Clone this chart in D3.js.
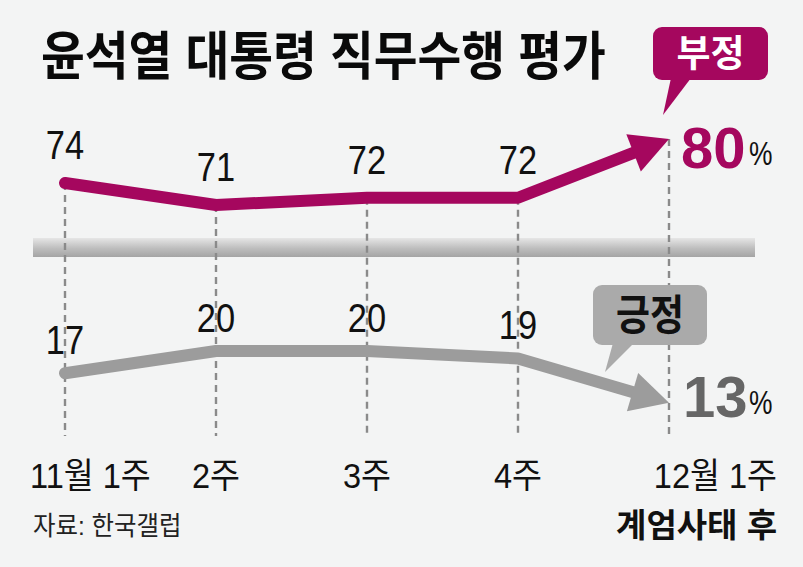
<!DOCTYPE html>
<html>
<head>
<meta charset="utf-8">
<script src="https://cdn.jsdelivr.net/npm/d3@7"></script>
<style>
  html, body { margin: 0; padding: 0; background: #f3f4f4; }
  svg { display: block; font-family: "Liberation Sans", "Noto Sans CJK KR", sans-serif; }
</style>
</head>
<body>
<div class="chart"></div>
<script>
const width = 803, height = 567;

// data
const weeks = ["11월 1주", "2주", "3주", "4주", "12월 1주"];
const negative = [74, 71, 72, 72, 80];
const positive = [17, 20, 20, 19, 13];

const magenta = "#a5075e";
const grey = "#9c9c9c";

const svg = d3.select(".chart").append("svg")
    .attr("width", width)
    .attr("height", height);

svg.append("rect")
    .attr("width", width)
    .attr("height", height)
    .attr("fill", "#f3f4f4");

const x = d3.scalePoint().domain(weeks).range([65, 669]);
const yNeg = d3.scaleLinear().domain([70, 80]).range([212.4, 139]);
const yPos = d3.scaleLinear().domain([10, 20]).range([425, 351]);

// condensed-ish text helper
function label(g, txt, px, py, opts) {
  const o = Object.assign({size: 40, weight: 400, fill: "#111", anchor: "middle", sx: 1, sy: 1}, opts);
  return g.append("text")
      .attr("transform", `translate(${px},${py}) scale(${o.sx},${o.sy})`)
      .attr("text-anchor", o.anchor)
      .attr("font-size", o.size)
      .attr("font-weight", o.weight)
      .attr("fill", o.fill)
      .text(txt);
}

// title
label(svg, "윤석열 대통령 직무수행 평가", 41, 75, {size: 52, weight: 700, anchor: "start", sx: 0.915, fill: "#0a0a0a"});

// separator band
const grad = svg.append("defs").append("linearGradient")
    .attr("id", "band")
    .attr("x1", 0).attr("y1", 0).attr("x2", 0).attr("y2", 1);
grad.append("stop").attr("offset", 0).attr("stop-color", "#e6e6e6");
grad.append("stop").attr("offset", 0.55).attr("stop-color", "#bdbdbd");
grad.append("stop").attr("offset", 1).attr("stop-color", "#a4a4a4");

svg.append("rect")
    .attr("x", 33).attr("y", 238)
    .attr("width", 722).attr("height", 19)
    .attr("fill", "url(#band)");

// dashed week guides
svg.append("g")
  .selectAll("line")
  .data(weeks)
  .join("line")
    .attr("x1", d => x(d))
    .attr("x2", d => x(d))
    .attr("y1", (d, i) => yNeg(negative[i]))
    .attr("y2", 436)
    .attr("stroke", "#8a8a8a")
    .attr("stroke-width", 2.4)
    .attr("stroke-dasharray", "7,5");

// line with an arrow head on the last point
function arrowLine(values, y, color) {
  const pts = values.map((v, i) => [x(weeks[i]), y(v)]);
  const tip = pts[pts.length - 1];
  const prev = pts[pts.length - 2];
  const dx = tip[0] - prev[0], dy = tip[1] - prev[1];
  const len = Math.sqrt(dx * dx + dy * dy);
  const ux = dx / len, uy = dy / len;
  const headLen = 38, headW = 20;
  const base = [tip[0] - ux * headLen, tip[1] - uy * headLen];
  const lineEnd = [tip[0] - ux * (headLen - 6), tip[1] - uy * (headLen - 6)];

  const g = svg.append("g");
  g.append("path")
      .attr("d", d3.line()(pts.slice(0, -1).concat([lineEnd])))
      .attr("fill", "none")
      .attr("stroke", color)
      .attr("stroke-width", 12)
      .attr("stroke-linecap", "round")
      .attr("stroke-linejoin", "round");

  g.append("path")
      .attr("d", d3.line()([
        tip,
        [base[0] - uy * headW, base[1] + ux * headW],
        [base[0] + uy * headW, base[1] - ux * headW]
      ]) + "Z")
      .attr("fill", color);
}

arrowLine(negative, yNeg, magenta);
arrowLine(positive, yPos, grey);

// value labels
const vals = svg.append("g");
negative.slice(0, -1).forEach((v, i) => {
  label(vals, v, x(weeks[i]), yNeg(v) - 24, {size: 41, sx: 0.84});
});
positive.slice(0, -1).forEach((v, i) => {
  label(vals, v, x(weeks[i]), yPos(v) - 19, {size: 41, sx: 0.84});
});

// final values
const last = weeks.length - 1;
label(svg, negative[last], x(weeks[last]) + 12, yNeg(negative[last]) + 29, {size: 58, weight: 700, fill: magenta, anchor: "start"});
label(svg, "%", x(weeks[last]) + 80, yNeg(negative[last]) + 26, {size: 33, anchor: "start", sx: 0.8});
label(svg, positive[last], x(weeks[last]) + 14, yPos(positive[last]) + 14, {size: 58, weight: 700, fill: "#666", anchor: "start"});
label(svg, "%", x(weeks[last]) + 80, yPos(positive[last]) + 11, {size: 33, anchor: "start", sx: 0.8});

// callouts
function callout(bx, by, bw, bh, tail, fill, txt, txtFill, size, sx) {
  const g = svg.append("g");
  g.append("path")
      .attr("d", d3.line()(tail) + "Z")
      .attr("fill", fill);
  g.append("rect")
      .attr("x", bx).attr("y", by)
      .attr("width", bw).attr("height", bh)
      .attr("rx", 9)
      .attr("fill", fill);
  label(g, txt, bx + bw / 2, by + bh / 2 + size * 0.36, {size: size, weight: 700, fill: txtFill, sx: sx});
}

callout(653, 27, 115, 53, [[671, 78], [691, 78], [663, 115]], magenta, "부정", "#fff", 37, 1);
callout(593, 285, 114, 60, [[613, 343], [634, 343], [605, 372]], "#aaaaaa", "긍정", "#111", 42, 0.88);

// week labels
const axis = svg.append("g");
weeks.forEach((w, i) => {
  if (i === 0) label(axis, w, 30, 488, {size: 35, anchor: "start", sx: 0.93});
  else if (i === last) label(axis, w, 777, 488, {size: 35, anchor: "end", sx: 0.93});
  else label(axis, w, x(w), 488, {size: 35, sx: 0.93});
});

label(svg, "계엄사태 후", 777, 537, {size: 33, weight: 700, anchor: "end", fill: "#111"});
label(svg, "자료: 한국갤럽", 33, 535, {size: 26, anchor: "start", sx: 0.94, fill: "#222"});
</script>
</body>
</html>
